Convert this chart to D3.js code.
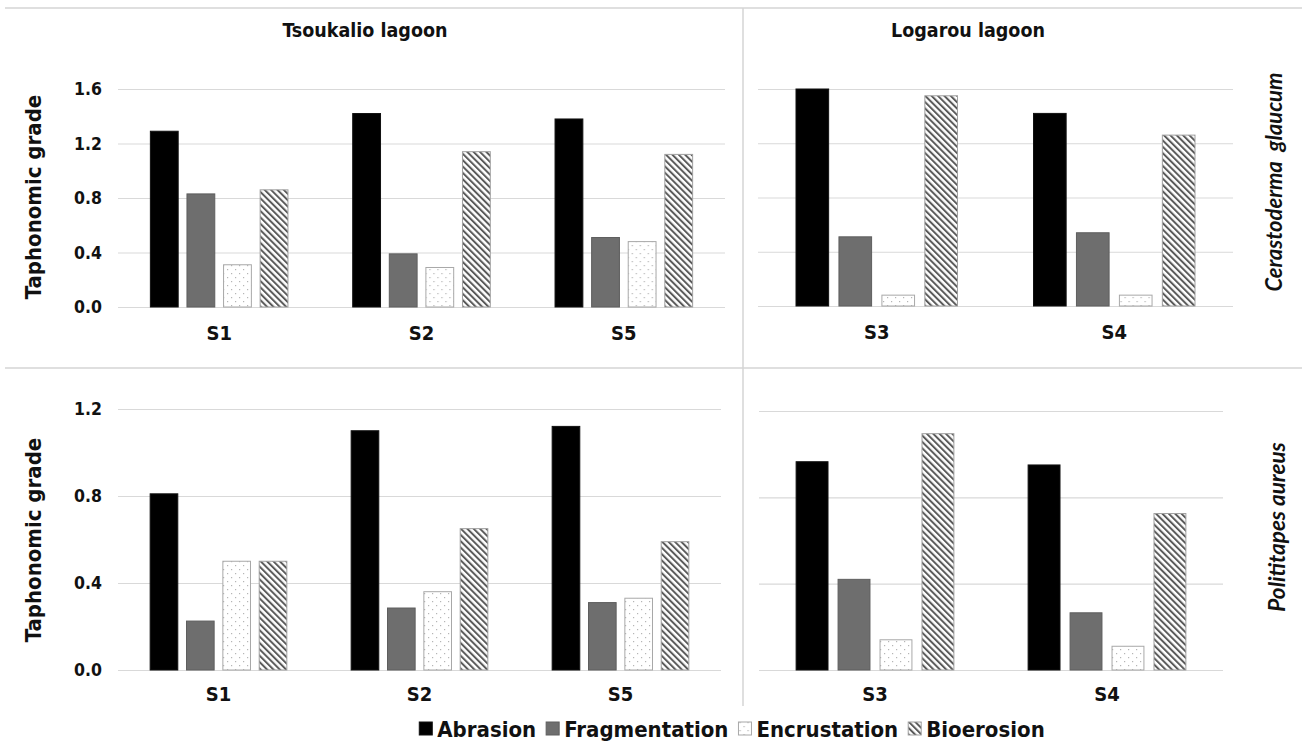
<!DOCTYPE html>
<html>
<head>
<meta charset="utf-8">
<script src="https://cdn.jsdelivr.net/npm/d3@7/dist/d3.min.js"></script>
<style>
  html, body { margin: 0; padding: 0; background: #fff; }
  svg { display: block; }
  .lbl { font-family: "DejaVu Sans Condensed", "DejaVu Sans", sans-serif; font-stretch: condensed; fill: #111; }
  .sp { font-family: Lato, "Open Sans", sans-serif; font-style: italic; font-weight: bold; fill: #111; }
</style>
</head>
<body>
<svg id="chart" width="1309" height="743"></svg>
<script>
// Sampling stations per lagoon
const tsoukalioStations = ["S1", "S2", "S5"];
const logarouStations = ["S3", "S4"];

// Taphonomic variables (bar series)
const series = ["Abrasion", "Fragmentation", "Encrustation", "Bioerosion"];

// Mean taphonomic grade, one row per station: [Abrasion, Fragmentation, Encrustation, Bioerosion]
const cerastodermaTsoukalio = [
  [1.29, 0.83, 0.31, 0.86],
  [1.42, 0.39, 0.29, 1.14],
  [1.38, 0.51, 0.48, 1.12]
];
const cerastodermaLogarou = [
  [1.60, 0.51, 0.08, 1.55],
  [1.42, 0.54, 0.08, 1.26]
];
const polititapesTsoukalio = [
  [0.81, 0.225, 0.50, 0.50],
  [1.10, 0.285, 0.36, 0.65],
  [1.12, 0.31, 0.33, 0.59]
];
const polititapesLogarou = [
  [0.965, 0.42, 0.14, 1.095],
  [0.95, 0.265, 0.11, 0.725]
];

// Y-axis ticks for the two species rows
const ticksCerastoderma = [0, 0.4, 0.8, 1.2, 1.6];
const ticksPolititapes = [0, 0.4, 0.8, 1.2];

const svg = d3.select("#chart");
const defs = svg.append("defs");

// Dotted fill for encrustation
const dots = defs.append("pattern").attr("id", "dots")
  .attr("patternUnits", "userSpaceOnUse").attr("width", 8).attr("height", 8);
dots.append("rect").attr("width", 8).attr("height", 8).attr("fill", "#fff");
dots.append("rect").attr("x", 1).attr("y", 1).attr("width", 1.2).attr("height", 1.2).attr("fill", "#b5b5b5");
dots.append("rect").attr("x", 5).attr("y", 5).attr("width", 1.2).attr("height", 1.2).attr("fill", "#b5b5b5");

// Wide downward diagonal hatch for bioerosion
const hatch = defs.append("pattern").attr("id", "hatch")
  .attr("patternUnits", "userSpaceOnUse").attr("width", 4.5).attr("height", 4.5)
  .attr("patternTransform", "rotate(-45)");
hatch.append("rect").attr("width", 4.5).attr("height", 4.5).attr("fill", "#fff");
hatch.append("rect").attr("x", 0).attr("y", 0).attr("width", 2).attr("height", 4.5).attr("fill", "#5a5a5a");

const fills = {
  Abrasion: { fill: "#000", stroke: "#111" },
  Fragmentation: { fill: "#6e6e6e", stroke: "#5e5e5e" },
  Encrustation: { fill: "url(#dots)", stroke: "#a8a8a8" },
  Bioerosion: { fill: "url(#hatch)", stroke: "#a0a0a0" }
};

// Panel frame lines
const frame = svg.append("g").attr("stroke", "#d4d4d4").attr("stroke-width", 1.5);
frame.append("line").attr("x1", 5).attr("x2", 1302).attr("y1", 8).attr("y2", 8);
frame.append("line").attr("x1", 5).attr("x2", 1302).attr("y1", 368).attr("y2", 368);
frame.append("line").attr("x1", 743).attr("x2", 743).attr("y1", 8).attr("y2", 706);

function panel(cfg) {
  const x0 = d3.scaleBand().domain(cfg.stations).range([cfg.x0, cfg.x1]);
  const bw = x0.bandwidth();
  const x1 = d3.scaleBand().domain(series).range([0.16 * bw, 0.84 * bw]).paddingInner(0.24);
  const y = d3.scaleLinear().domain([0, d3.max(cfg.ticks)]).range([cfg.y0, cfg.y1]);

  const g = svg.append("g");

  // gridlines
  g.append("g")
    .attr("transform", `translate(${cfg.x0},0)`)
    .call(d3.axisLeft(y).tickValues(cfg.ticks).tickSize(-(cfg.x1 - cfg.x0)).tickFormat(""))
    .call(a => a.select(".domain").remove())
    .call(a => a.selectAll("line").attr("stroke", "#d9d9d9").attr("stroke-width", 1.2));

  // tick labels
  if (cfg.showTicks) {
    g.append("g")
      .attr("transform", `translate(${cfg.x0},0)`)
      .call(d3.axisLeft(y).tickValues(cfg.ticks).tickSize(0).tickPadding(16).tickFormat(d3.format(".1f")))
      .call(a => a.select(".domain").remove())
      .call(a => a.selectAll("text")
        .attr("class", "lbl").attr("font-size", 17.5).attr("font-weight", "bold").attr("fill", "#111"));
  }

  // bars
  const groups = g.selectAll("g.station").data(cfg.stations).join("g")
    .attr("class", "station")
    .attr("transform", d => `translate(${x0(d)},0)`);
  groups.selectAll("rect")
    .data((d, i) => series.map((s, j) => ({ s, v: cfg.values[i][j] })))
    .join("rect")
    .attr("x", d => x1(d.s))
    .attr("width", x1.bandwidth())
    .attr("y", d => y(d.v))
    .attr("height", d => y(0) - y(d.v))
    .attr("fill", d => fills[d.s].fill)
    .attr("stroke", d => fills[d.s].stroke)
    .attr("stroke-width", 1);

  // station labels
  g.append("g")
    .attr("transform", `translate(0,${cfg.y0})`)
    .call(d3.axisBottom(x0).tickSize(0).tickPadding(cfg.labelPad))
    .call(a => a.select(".domain").remove())
    .call(a => a.selectAll("text")
      .attr("class", "lbl").attr("font-size", 20).attr("font-weight", "bold").attr("fill", "#111"));
}

panel({ stations: tsoukalioStations, values: cerastodermaTsoukalio, ticks: ticksCerastoderma,
  x0: 118, x1: 725, y0: 307, y1: 89, showTicks: true, labelPad: 19 });
panel({ stations: logarouStations, values: cerastodermaLogarou, ticks: ticksCerastoderma,
  x0: 758, x1: 1233, y0: 306, y1: 89, showTicks: false, labelPad: 19 });
panel({ stations: tsoukalioStations, values: polititapesTsoukalio, ticks: ticksPolititapes,
  x0: 118, x1: 721, y0: 670, y1: 409, showTicks: true, labelPad: 17 });
panel({ stations: logarouStations, values: polititapesLogarou, ticks: ticksPolititapes,
  x0: 759, x1: 1223, y0: 670, y1: 411, showTicks: false, labelPad: 17 });

// Lagoon titles
svg.append("text").attr("class", "lbl").attr("x", 365).attr("y", 37)
  .attr("text-anchor", "middle").attr("font-size", 19.5).attr("font-weight", 600).text("Tsoukalio lagoon");
svg.append("text").attr("class", "lbl").attr("x", 968).attr("y", 37)
  .attr("text-anchor", "middle").attr("font-size", 19.5).attr("font-weight", 600).text("Logarou lagoon");

// Y axis titles
[197, 540].forEach(cy => {
  svg.append("text").attr("class", "lbl")
    .attr("transform", `translate(41,${cy}) rotate(-90)`)
    .attr("text-anchor", "middle").attr("font-size", 22).attr("font-weight", "bold")
    .text("Taphonomic grade");
});

// Species labels
svg.append("text").attr("class", "sp")
  .attr("transform", `translate(1282,182) rotate(-90)`)
  .attr("text-anchor", "middle").attr("font-size", 22).attr("xml:space", "preserve")
  .text("Cerastoderma  glaucum");
svg.append("text").attr("class", "sp")
  .attr("transform", `translate(1285,527) rotate(-90)`)
  .attr("text-anchor", "middle").attr("font-size", 22.5)
  .text("Polititapes aureus");

// Legend
const legend = svg.append("g");
let lx = 0;
series.forEach(s => {
  const it = legend.append("g").attr("transform", `translate(${lx},0)`);
  it.append("rect").attr("x", 0).attr("y", -7).attr("width", 13).attr("height", 13)
    .attr("fill", fills[s].fill).attr("stroke", fills[s].stroke);
  const t = it.append("text").attr("class", "lbl").attr("x", 18).attr("y", 7.5)
    .attr("font-size", 22).attr("font-weight", "bold").text(s);
  lx += 18 + t.node().getComputedTextLength() + 10;
});
const legendW = lx - 10;
legend.attr("transform", `translate(${732 - legendW / 2},729)`);
</script>
</body>
</html>
